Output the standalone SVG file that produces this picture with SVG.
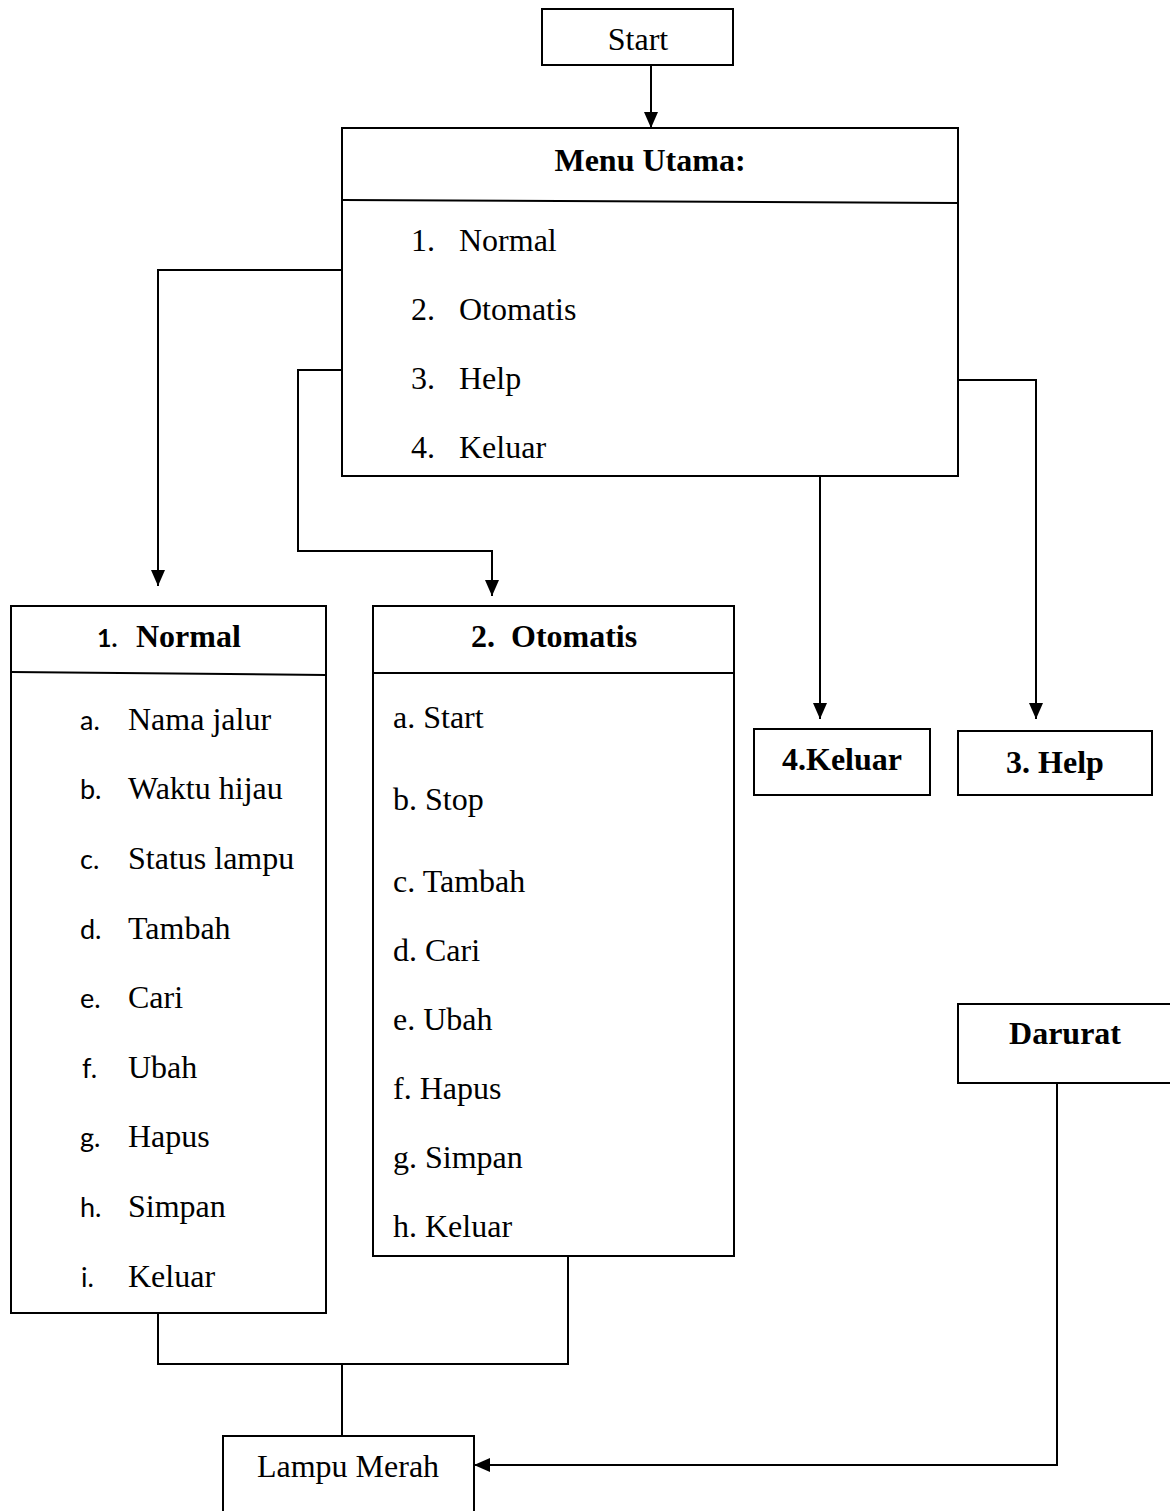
<svg xmlns="http://www.w3.org/2000/svg" width="1170" height="1511" viewBox="0 0 1170 1511">
<defs>
<style>
.box{fill:#fff;stroke:#000;stroke-width:2}
.ln{fill:none;stroke:#000;stroke-width:2}
.t{font-family:"Liberation Serif","Times New Roman",serif;font-size:32px;fill:#000}
.b{font-family:"Liberation Serif","Times New Roman",serif;font-size:32px;font-weight:bold;fill:#000}
.s{font-family:Lato,"Open Sans",sans-serif;font-size:27px;fill:#000}
.sb{font-family:Lato,"Open Sans",sans-serif;font-size:25px;font-weight:bold;fill:#000}
.c{text-anchor:middle}
</style>
<marker id="ah" viewBox="0 0 16 14" refX="16" refY="7" markerWidth="16" markerHeight="14" markerUnits="userSpaceOnUse" orient="auto">
<path d="M0,0 L16,7 L0,14 z" fill="#000"/>
</marker>
</defs>
<rect width="1170" height="1511" fill="#fff"/>

<g id="connectors">
<path class="ln" d="M651,65 V128" marker-end="url(#ah)"/>
<path class="ln" d="M342,270 H158 V586" marker-end="url(#ah)"/>
<path class="ln" d="M342,370 H298 V551 H492 V596" marker-end="url(#ah)"/>
<path class="ln" d="M820,476 V719" marker-end="url(#ah)"/>
<path class="ln" d="M958,380 H1036 V719" marker-end="url(#ah)"/>
<path class="ln" d="M158,1313 V1364 H568 V1256"/>
<path class="ln" d="M342,1365 V1436"/>
<path class="ln" d="M1057,1083 V1465 H474" marker-end="url(#ah)"/>
</g>

<g id="start">
<rect class="box" x="542" y="9" width="191" height="56"/>
<text class="t c" x="638" y="50">Start</text>
</g>

<g id="menu-utama">
<rect class="box" x="342" y="128" width="616" height="348"/>
<line class="ln" x1="342" y1="200" x2="958" y2="203"/>
<text class="b c" x="650" y="171">Menu Utama:</text>
<text class="t" x="411" y="251">1.</text><text class="t" x="459" y="251">Normal</text>
<text class="t" x="411" y="320">2.</text><text class="t" x="459" y="320">Otomatis</text>
<text class="t" x="411" y="389">3.</text><text class="t" x="459" y="389">Help</text>
<text class="t" x="411" y="458">4.</text><text class="t" x="459" y="458">Keluar</text>
</g>

<g id="normal">
<rect class="box" x="11" y="606" width="315" height="707"/>
<line class="ln" x1="11" y1="672" x2="326" y2="675"/>
<text x="97" y="647"><tspan class="sb">1.</tspan><tspan class="b" x="136">Normal</tspan></text>
<text class="s" x="80" y="730">a.</text><text class="t" x="128" y="730">Nama jalur</text>
<text class="s" x="80" y="799">b.</text><text class="t" x="128" y="799">Waktu hijau</text>
<text class="s" x="80" y="869">c.</text><text class="t" x="128" y="869">Status lampu</text>
<text class="s" x="80" y="939">d.</text><text class="t" x="128" y="939">Tambah</text>
<text class="s" x="80" y="1008">e.</text><text class="t" x="128" y="1008">Cari</text>
<text class="s" x="82" y="1078">f.</text><text class="t" x="128" y="1078">Ubah</text>
<text class="s" x="80" y="1147">g.</text><text class="t" x="128" y="1147">Hapus</text>
<text class="s" x="80" y="1217">h.</text><text class="t" x="128" y="1217">Simpan</text>
<text class="s" x="81" y="1287">i.</text><text class="t" x="128" y="1287">Keluar</text>
</g>

<g id="otomatis">
<rect class="box" x="373" y="606" width="361" height="650"/>
<line class="ln" x1="373" y1="673" x2="734" y2="673"/>
<text class="b" x="471" y="647">2.<tspan x="511">Otomatis</tspan></text>
<text class="t" x="393" y="728">a. Start</text>
<text class="t" x="393" y="810">b. Stop</text>
<text class="t" x="393" y="892">c. Tambah</text>
<text class="t" x="393" y="961">d. Cari</text>
<text class="t" x="393" y="1030">e. Ubah</text>
<text class="t" x="393" y="1099">f. Hapus</text>
<text class="t" x="393" y="1168">g. Simpan</text>
<text class="t" x="393" y="1237">h. Keluar</text>
</g>

<g id="keluar">
<rect class="box" x="754" y="729" width="176" height="66"/>
<text class="b c" x="842" y="770">4.Keluar</text>
</g>

<g id="help">
<rect class="box" x="958" y="731" width="194" height="64"/>
<text class="b c" x="1055" y="773">3. Help</text>
</g>

<g id="darurat">
<rect class="box" x="958" y="1004" width="230" height="79"/>
<text class="b c" x="1065" y="1044">Darurat</text>
</g>

<g id="lampu-merah">
<rect class="box" x="223" y="1436" width="251" height="100"/>
<text class="t c" x="348" y="1477">Lampu Merah</text>
</g>
</svg>
